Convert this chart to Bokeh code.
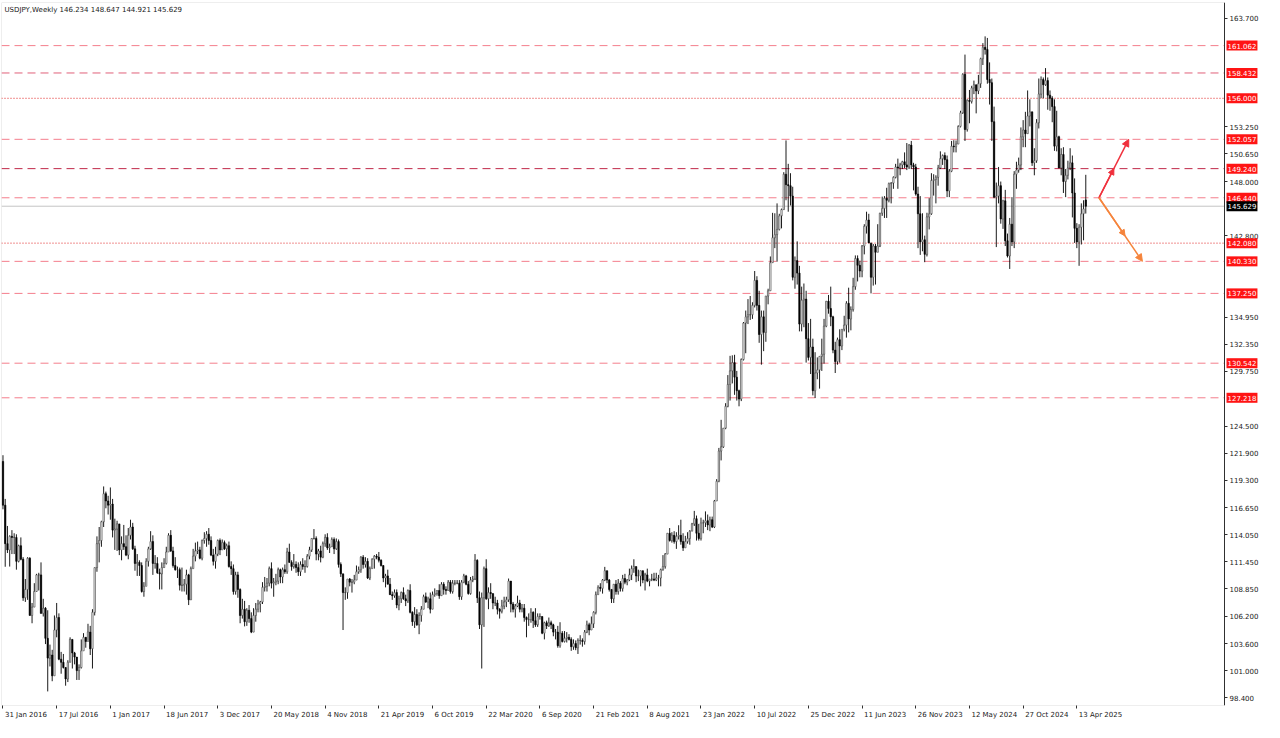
from bokeh.plotting import figure
from bokeh.models import (Range1d, FixedTicker, Label, ColumnDataSource,
                          Arrow, NormalHead, BoxAnnotation)
from bokeh.embed import file_html
from bokeh.resources import INLINE

# ---------------- data ----------------
title_text = "USDJPY,Weekly  146.234 148.647 144.921 145.629"

first_open = 121.10      # open of week 31 Jan 2016
last_open = 146.234      # open of the last (current) week

# weekly highs / lows / closes, 31 Jan 2016 .. 11 May 2025
highs = [
    # 2016
    121.7, 117.5, 114.9, 114.0, 114.5, 114.2, 114.1, 113.1, 113.8, 111.9,
    109.8, 111.9, 111.9, 107.5, 109.4, 110.3, 110.4, 111.4, 107.9, 107.1,
    106.8, 103.5, 103.0, 106.3, 107.5, 106.5, 102.8, 102.6, 101.3, 102.0,
    104.2, 104.0, 102.8, 102.3, 101.6, 104.0, 104.6, 104.2, 105.5, 105.3,
    106.9, 110.9, 113.9, 114.8, 115.4, 118.7, 118.2, 117.8,
    # 2017
    118.6, 117.5, 115.6, 115.4, 115.0, 113.9, 115.0, 114.0, 114.7, 115.5,
    115.2, 113.0, 112.2, 111.6, 111.4, 109.5, 111.8, 112.9, 114.4, 114.0,
    112.1, 111.9, 110.8, 111.4, 111.8, 112.9, 114.2, 114.5, 112.9, 111.9,
    111.0, 110.9, 110.9, 109.8, 110.7, 110.3, 111.0, 112.7, 113.3, 113.4,
    112.9, 113.6, 114.3, 114.4, 114.7, 113.9, 112.7, 112.9, 113.6, 113.7,
    113.6, 113.5,
    # 2018
    113.2, 113.4, 111.5, 111.2, 110.5, 110.5, 108.9, 107.9, 107.7, 107.0,
    107.3, 106.6, 107.0, 107.5, 107.8, 107.7, 109.5, 110.0, 109.9, 111.0,
    111.4, 109.9, 110.3, 110.9, 110.8, 110.9, 111.2, 112.8, 113.2, 111.6,
    112.2, 111.5, 111.4, 111.5, 111.8, 111.6, 112.2, 112.9, 113.7, 114.6,
    113.9, 112.7, 113.0, 113.4, 114.1, 114.2, 113.2, 113.8, 113.8, 113.7,
    113.6, 111.4,
    # 2019
    110.3, 109.0, 109.8, 109.9, 109.8, 110.2, 111.1, 111.0, 112.0, 112.1,
    111.9, 111.8, 111.0, 111.8, 112.1, 112.2, 112.4, 111.7, 111.1, 110.3,
    110.7, 109.9, 108.6, 108.8, 108.8, 108.2, 108.6, 109.0, 108.3, 108.8,
    109.3, 106.7, 107.1, 106.9, 106.6, 107.2, 108.3, 108.5, 108.1, 108.5,
    108.6, 108.9, 108.7, 109.3, 109.5, 109.5, 109.1, 109.7, 109.7, 109.7,
    109.7, 109.7,
    # 2020
    109.7, 109.7, 110.3, 110.2, 109.6, 110.0, 110.1, 112.2, 111.7, 108.6,
    108.5, 111.0, 111.7, 109.0, 109.4, 108.4, 108.1, 107.8, 107.0, 107.8,
    108.1, 108.1, 109.85, 109.6, 107.6, 107.4, 108.2, 107.8, 107.4, 107.4,
    106.2, 106.5, 107.0, 106.7, 107.0, 106.5, 106.5, 106.2, 105.7, 105.8,
    106.1, 105.8, 105.5, 105.0, 105.3, 105.65, 104.8, 104.8, 104.7, 104.5,
    104.2, 104.0, 103.9,
    # 2021
    104.1, 104.4, 104.1, 104.9, 105.8, 105.6, 106.2, 106.7, 108.6, 109.2,
    109.4, 109.8, 110.97, 110.6, 109.8, 108.8, 109.3, 109.7, 109.8, 109.6,
    110.2, 110.3, 109.8, 110.8, 111.1, 111.7, 111.0, 110.7, 110.6, 110.6,
    110.4, 110.8, 109.8, 110.3, 110.4, 110.4, 110.2, 110.8, 112.1, 112.3,
    114.2, 114.7, 114.3, 114.4, 114.3, 114.97, 115.5, 114.2, 113.95, 114.3,
    114.5, 115.2,
    # 2022
    116.35, 115.9, 115.1, 115.7, 115.5, 116.3, 116.0, 115.8, 115.8, 117.4,
    119.4, 122.4, 125.1, 124.3, 126.7, 129.4, 131.25, 131.3, 131.35, 129.8,
    128.0, 131.0, 134.5, 135.6, 136.7, 137.0, 136.4, 139.4, 138.9, 137.5,
    135.6, 135.6, 137.0, 137.7, 140.8, 144.99, 144.95, 145.9, 144.9, 145.4,
    148.9, 151.95, 149.7, 148.8, 147.5, 140.8, 142.25, 139.9, 137.9, 138.2,
    137.5, 134.4,
    # 2023
    134.8, 132.9, 131.6, 131.1, 131.2, 132.9, 134.8, 136.5, 137.1, 137.9,
    135.1, 132.6, 133.0, 133.8, 133.8, 135.1, 136.5, 137.8, 136.0, 138.75,
    140.9, 140.9, 140.4, 141.9, 143.9, 145.1, 144.9, 142.0, 142.0, 142.0,
    143.9, 145.0, 146.55, 146.6, 147.4, 147.9, 147.95, 148.5, 149.7, 150.2,
    149.8, 149.99, 150.8, 151.7, 151.6, 151.9, 149.8, 149.7, 147.5, 146.6,
    144.95, 142.8,
    # 2024
    145.0, 146.4, 148.8, 148.7, 148.6, 149.6, 150.9, 150.6, 150.8, 150.5,
    149.2, 151.9, 151.97, 151.95, 153.4, 154.8, 158.4, 160.2, 155.9, 156.8,
    157.2, 157.7, 157.3, 158.25, 159.9, 161.3, 161.95, 161.8, 159.45, 157.9,
    155.2, 147.9, 149.4, 148.0, 146.25, 147.2, 143.0, 144.5, 146.5, 149.0,
    149.9, 150.3, 153.2, 153.9, 154.7, 156.75, 155.9, 154.7, 151.2, 154.0,
    157.9, 158.1,
    # 2025
    158.0, 158.9, 158.0, 156.75, 156.2, 155.9, 154.8, 152.4, 151.2, 151.3,
    149.2, 150.0, 151.2, 150.5, 148.3, 144.0, 143.9, 145.9, 146.2, 148.647,
]

lows = [
    # 2016
    116.5, 110.98, 112.3, 111.0, 112.2, 112.2, 110.7, 111.4, 111.6, 107.7,
    107.6, 107.8, 106.3, 105.55, 107.6, 108.6, 108.7, 106.5, 106.2, 103.55,
    99.0, 101.4, 99.98, 100.6, 104.2, 102.0, 100.7, 101.2, 99.55, 99.9,
    101.8, 101.2, 101.6, 100.1, 100.1, 101.2, 103.0, 103.2, 103.9, 102.5,
    101.2, 106.3, 110.5, 111.4, 112.9, 114.8, 116.6, 116.0,
    # 2017
    115.5, 113.8, 112.6, 112.5, 112.1, 111.6, 112.6, 112.0, 111.7, 113.6,
    112.6, 110.6, 110.1, 110.1, 108.5, 108.1, 109.2, 111.0, 112.6, 110.2,
    110.8, 110.3, 108.8, 108.8, 110.9, 111.2, 112.6, 112.4, 110.9, 110.6,
    109.9, 108.7, 108.6, 108.6, 108.3, 107.3, 107.8, 110.8, 111.5, 112.2,
    111.7, 111.6, 113.2, 112.9, 113.1, 112.0, 111.1, 110.8, 112.0, 112.1,
    112.6, 112.6,
    # 2018
    112.0, 110.9, 110.2, 108.3, 108.3, 108.0, 105.55, 106.0, 105.25, 105.3,
    105.6, 104.6, 104.7, 105.7, 106.6, 106.6, 107.4, 108.6, 108.6, 109.1,
    108.9, 108.1, 109.2, 109.3, 109.4, 109.4, 110.3, 110.3, 111.4, 110.6,
    110.8, 110.4, 110.1, 110.1, 110.7, 110.4, 110.9, 111.7, 112.4, 113.6,
    111.6, 111.6, 111.4, 111.8, 112.9, 112.6, 112.3, 112.9, 112.2, 112.6,
    110.9, 110.0,
    # 2019
    104.9, 107.8, 107.9, 109.1, 108.5, 109.3, 109.7, 110.3, 110.4, 110.8,
    110.9, 109.8, 109.7, 110.8, 110.8, 111.7, 111.4, 111.0, 109.5, 109.0,
    109.3, 108.3, 107.8, 108.0, 107.0, 106.8, 107.5, 107.8, 107.2, 107.5,
    106.5, 105.3, 105.1, 105.3, 104.5, 105.7, 106.9, 107.5, 107.0, 106.5,
    106.9, 108.1, 108.2, 107.9, 108.2, 108.3, 108.3, 108.7, 108.4, 108.4,
    109.2, 109.3,
    # 2020
    107.8, 107.8, 109.4, 109.2, 108.3, 108.3, 109.5, 109.7, 107.5, 105.0,
    101.2, 105.2, 107.8, 106.9, 107.9, 106.9, 107.2, 106.4, 106.0, 106.5,
    106.9, 107.1, 107.6, 106.6, 106.6, 106.1, 107.1, 106.6, 106.6, 105.7,
    104.2, 105.3, 105.6, 105.1, 105.2, 105.2, 105.9, 104.5, 104.0, 105.0,
    105.2, 105.0, 104.3, 104.0, 103.2, 103.2, 103.7, 103.7, 103.7, 103.9,
    102.9, 103.0, 102.96,
    # 2021
    102.6, 103.5, 103.3, 103.5, 104.6, 104.4, 104.9, 105.1, 106.4, 108.3,
    108.6, 108.4, 109.6, 109.4, 108.6, 107.5, 107.5, 108.3, 108.3, 108.6,
    108.6, 109.3, 109.2, 109.6, 109.7, 110.4, 109.5, 109.6, 109.1, 109.4,
    108.7, 109.5, 109.1, 109.6, 109.6, 109.6, 109.1, 109.1, 110.6, 110.8,
    112.2, 113.4, 113.3, 113.2, 112.7, 113.6, 113.1, 112.5, 112.9, 113.2,
    113.1, 114.4,
    # 2022
    114.9, 113.5, 113.5, 113.5, 114.2, 114.8, 114.5, 114.4, 114.7, 114.7,
    117.3, 119.1, 121.2, 122.4, 124.2, 126.3, 126.95, 128.6, 127.5, 126.95,
    126.4, 126.9, 130.8, 131.5, 134.3, 134.7, 134.8, 135.9, 135.6, 132.5,
    130.4, 131.7, 132.6, 136.2, 137.5, 140.2, 141.6, 140.3, 143.3, 143.5,
    145.3, 146.2, 145.1, 145.7, 138.5, 137.7, 138.1, 133.6, 133.6, 134.0,
    130.6, 130.8,
    # 2023
    129.5, 127.45, 127.2, 129.0, 128.1, 129.8, 130.5, 134.0, 135.3, 134.1,
    131.5, 129.6, 130.4, 130.6, 131.8, 133.6, 133.0, 133.5, 133.7, 135.5,
    137.6, 138.4, 138.8, 138.8, 141.0, 143.0, 142.1, 137.25, 138.0, 138.1,
    141.5, 141.7, 144.7, 144.5, 144.5, 146.0, 145.9, 147.3, 148.3, 147.3,
    148.6, 149.2, 149.3, 149.1, 149.2, 149.2, 147.15, 146.65, 141.6, 140.95,
    141.3, 140.25,
    # 2024
    140.8, 143.4, 144.8, 146.65, 145.9, 147.6, 149.2, 149.6, 149.2, 146.5,
    146.5, 148.9, 150.8, 150.8, 151.6, 153.2, 154.5, 151.9, 152.8, 153.6,
    155.5, 156.4, 154.55, 156.4, 157.0, 159.2, 160.2, 157.4, 155.4, 151.9,
    146.4, 141.7, 145.9, 143.95, 143.45, 141.8, 140.7, 139.6, 141.8, 141.6,
    147.3, 148.85, 149.1, 151.3, 151.3, 152.6, 153.3, 149.5, 148.6, 149.8,
    153.1, 156.0,
    # 2025
    156.0, 157.2, 154.9, 154.8, 153.7, 150.95, 150.9, 149.3, 148.6, 146.9,
    146.5, 148.2, 149.1, 144.55, 142.1, 141.6, 139.9, 141.95, 142.35, 144.921,
]

closes = [
    # 2016
    116.9, 113.2, 112.6, 113.9, 113.8, 113.8, 111.5, 113.0, 111.7, 108.0,
    108.8, 111.8, 106.3, 107.1, 108.6, 110.2, 110.2, 106.5, 107.0, 104.1,
    102.2, 102.5, 100.5, 104.9, 106.1, 102.1, 101.8, 101.3, 100.2, 101.8,
    104.0, 102.7, 102.3, 101.0, 101.3, 102.9, 104.2, 103.8, 104.7, 103.1,
    106.6, 110.9, 113.2, 113.5, 115.3, 118.0, 117.3, 116.9,
    # 2017
    117.0, 114.5, 114.6, 115.1, 112.6, 113.2, 112.9, 112.1, 114.0, 114.8,
    112.7, 111.3, 111.4, 111.1, 108.6, 109.1, 111.5, 112.7, 113.4, 111.3,
    111.3, 110.4, 110.3, 110.9, 111.3, 112.4, 114.0, 112.5, 111.1, 110.7,
    110.7, 109.2, 109.2, 109.3, 110.2, 107.8, 110.8, 112.0, 112.5, 112.6,
    111.8, 113.5, 113.7, 114.1, 113.5, 112.1, 111.5, 112.2, 113.5, 112.6,
    113.3, 112.7,
    # 2018
    113.0, 111.0, 110.8, 108.6, 110.2, 108.8, 106.3, 106.9, 105.7, 106.8,
    106.0, 104.7, 106.3, 106.9, 107.4, 107.6, 109.0, 109.1, 109.4, 110.8,
    109.4, 109.5, 109.6, 110.7, 110.0, 110.7, 110.5, 112.4, 111.4, 111.0,
    111.2, 110.9, 110.5, 111.2, 111.0, 111.0, 112.0, 112.6, 113.7, 113.7,
    112.2, 112.5, 111.9, 113.2, 113.8, 112.8, 112.9, 113.6, 112.7, 113.4,
    111.2, 110.3,
    # 2019
    108.5, 108.5, 109.8, 109.5, 109.5, 109.7, 110.5, 110.7, 111.9, 111.2,
    111.5, 109.9, 110.8, 111.7, 112.0, 111.9, 111.6, 111.1, 109.9, 110.1,
    109.3, 108.3, 108.2, 108.5, 107.3, 107.9, 108.5, 107.9, 107.7, 108.7,
    106.6, 105.7, 106.4, 105.4, 106.3, 106.9, 108.1, 107.6, 107.9, 106.9,
    108.3, 108.4, 108.7, 108.2, 109.3, 108.8, 108.7, 109.5, 108.6, 109.4,
    109.4, 109.4,
    # 2020
    108.1, 109.5, 110.1, 109.3, 108.4, 109.7, 109.8, 111.6, 108.0, 105.4,
    108.0, 110.8, 107.9, 108.5, 108.4, 107.5, 107.5, 106.9, 106.7, 107.2,
    107.6, 107.8, 109.6, 107.4, 106.9, 107.2, 107.5, 106.9, 107.0, 106.1,
    105.9, 105.9, 106.6, 105.8, 105.4, 106.2, 106.2, 104.6, 105.6, 105.3,
    105.6, 105.4, 104.7, 104.7, 103.4, 104.6, 103.8, 104.1, 104.2, 104.0,
    103.3, 103.6, 103.2,
    # 2021
    103.9, 103.9, 103.8, 104.7, 105.4, 104.9, 105.5, 106.6, 108.3, 109.0,
    108.9, 109.7, 110.6, 109.7, 108.8, 107.9, 109.3, 108.6, 109.4, 108.9,
    109.85, 109.5, 109.7, 110.2, 110.8, 111.0, 110.1, 110.1, 110.6, 109.7,
    110.2, 109.6, 109.8, 109.8, 109.7, 109.9, 109.9, 110.7, 111.0, 112.2,
    114.2, 113.5, 114.0, 113.4, 113.9, 114.0, 113.4, 112.8, 113.4, 113.7,
    114.4, 115.1,
    # 2022
    115.6, 114.2, 113.7, 115.2, 115.2, 115.4, 115.0, 115.5, 114.8, 117.3,
    119.2, 122.1, 122.5, 124.3, 126.4, 128.5, 129.8, 130.6, 129.2, 127.9,
    127.1, 130.9, 134.4, 135.0, 135.2, 135.2, 136.1, 138.5, 136.1, 133.3,
    135.0, 133.5, 137.0, 137.5, 140.2, 142.6, 142.9, 143.4, 144.7, 145.3,
    148.7, 147.7, 147.6, 146.6, 138.8, 140.4, 139.2, 134.3, 136.6, 136.7,
    132.9, 131.1,
    # 2023
    132.1, 127.9, 129.6, 129.9, 131.2, 131.4, 134.1, 136.5, 135.8, 135.0,
    131.8, 130.7, 132.8, 132.2, 133.8, 134.2, 136.3, 134.8, 135.7, 137.9,
    140.6, 139.95, 139.4, 141.8, 143.7, 144.3, 142.1, 138.8, 141.8, 141.2,
    141.8, 144.95, 145.4, 146.4, 146.2, 147.8, 147.85, 148.4, 149.4, 149.3,
    149.6, 149.9, 149.6, 149.4, 151.5, 149.6, 149.4, 146.8, 144.9, 142.2,
    142.4, 141.0,
    # 2024
    144.6, 144.9, 148.1, 148.2, 148.4, 149.3, 150.2, 150.5, 150.1, 147.1,
    149.0, 151.4, 151.35, 151.6, 153.3, 154.6, 158.3, 153.0, 155.8, 155.7,
    157.0, 157.3, 156.7, 157.4, 159.8, 160.9, 160.7, 157.8, 157.5, 153.75,
    146.5, 146.6, 147.6, 144.4, 146.15, 142.3, 140.85, 143.9, 142.2, 148.7,
    149.1, 149.6, 152.3, 152.95, 152.6, 154.3, 154.7, 149.8, 150.0, 153.65,
    156.4, 157.8,
    # 2025
    157.3, 157.7, 156.3, 156.0, 155.2, 151.4, 152.3, 149.3, 150.6, 148.0,
    148.6, 149.3, 149.8, 146.9, 143.5, 142.2, 143.6, 144.9, 145.37, 145.629,
]

date_labels = ["31 Jan 2016", "17 Jul 2016", "1 Jan 2017", "18 Jun 2017", "3 Dec 2017",
               "20 May 2018", "4 Nov 2018", "21 Apr 2019", "6 Oct 2019", "22 Mar 2020",
               "6 Sep 2020", "21 Feb 2021", "8 Aug 2021", "23 Jan 2022", "10 Jul 2022",
               "25 Dec 2022", "11 Jun 2023", "26 Nov 2023", "12 May 2024", "27 Oct 2024",
               "13 Apr 2025"]
date_label_weeks = [0, 24, 48, 72, 96, 120, 144, 168, 192, 216, 240, 264, 288,
                    312, 336, 360, 384, 408, 432, 456, 480]

y_tick_values = [163.7, 153.25, 150.65, 148.0, 142.8, 134.95, 132.35, 129.75,
                 124.5, 121.9, 119.3, 116.65, 114.05, 111.45, 108.85, 106.2,
                 103.6, 101.0, 98.4]
y_tick_labels = ["163.700", "153.250", "150.650", "148.000", "142.800", "134.950",
                 "132.350", "129.750", "124.500", "121.900", "119.300", "116.650",
                 "114.050", "111.450", "108.850", "106.200", "103.600", "101.000",
                 "98.400"]

level_values = [161.062, 158.432, 156.000, 152.057, 149.240, 146.440,
                142.080, 140.330, 137.250, 130.542, 127.218]
level_kinds = ["dash", "dash2", "dot", "dash", "dash3", "dash",
               "dot", "dash", "dash", "dash", "dash"]
current_price = 145.629

# scenario arrows (week index, price)
arrow_start = (489.9, 146.440)
arrow_up_end = (503.2, 152.057)
arrow_down_end = (509.3, 140.330)

# ---------------- styles / layout ----------------
FONT = "DejaVu Sans"
FS = "7px"
FS_PX = 7.0
kind_style = {
    "dash": ("#f47e8c", "8 5"),
    "dash2": ("#e0607a", "8 5"),
    "dash3": ("#c02848", "8 5"),
    "dot": ("#e02020", "1 2"),
}

W, H = 1264, 722
BL, BT, BB = 1, 2, 17
AXIS_W = 40                      # width of the price-scale strip on the right
frame_w = W - BL                 # frame spans the strip; the axis sits inside it
frame_h = H - BT - BB
chart_w = frame_w - AXIS_W
ymin, ymax = 97.647, 165.205
xmin, xchart = -0.66, 546.0      # week range of the chart area
pxw = chart_w / (xchart - xmin)
xmax = xmin + frame_w / pxw
pxu = frame_h / (ymax - ymin)

# approx DejaVu Sans advance widths (em) to left-align date labels after their tick
CW = {" ": 0.318, "J": 0.295, "a": 0.613, "n": 0.634, "u": 0.634, "l": 0.278,
      "M": 0.863, "r": 0.411, "p": 0.635, "A": 0.684, "O": 0.787, "c": 0.550,
      "t": 0.392, "S": 0.635, "e": 0.615, "F": 0.575, "b": 0.635, "g": 0.635,
      "y": 0.592, "N": 0.748, "o": 0.612, "v": 0.592, "D": 0.770}


def text_w(s):
    return sum(0.636 if ch.isdigit() else CW.get(ch, 0.6) for ch in s) * FS_PX


# ---------------- build ----------------
n = len(closes)
opens = [first_open] + closes[:-1]
opens[-1] = last_open

bull = dict(x=[], top=[], bottom=[])
bear = dict(x=[], top=[], bottom=[])
for i in range(n):
    o, c = opens[i], closes[i]
    d = bull if c >= o else bear
    d["x"].append(i)
    d["top"].append(max(o, c))
    d["bottom"].append(min(o, c))

p = figure(width=W, height=H, output_backend="svg", toolbar_location=None,
           x_range=Range1d(xmin, xmax), y_range=Range1d(ymin, ymax),
           y_axis_location="right",
           min_border_left=BL, min_border_right=0, min_border_top=BT, min_border_bottom=BB,
           background_fill_color="white", border_fill_color="white")
p.outline_line_color = None
p.grid.visible = False

# chart-area border
p.add_layout(BoxAnnotation(left=xmin, right=xchart, bottom=ymin, top=ymax,
                           fill_alpha=0, line_color="#8c8c8c", line_width=1,
                           level="underlay"))

# level lines (stop at the price scale)
for k in kind_style:
    vals = [v for v, kk in zip(level_values, level_kinds) if kk == k]
    col, dash = kind_style[k]
    p.segment(x0=[xmin] * len(vals), y0=vals, x1=[xchart] * len(vals), y1=vals,
              line_color=col, line_dash=dash, line_width=1)
p.segment(x0=[xmin], y0=[current_price], x1=[xchart], y1=[current_price],
          line_color="#c4c4c4", line_width=1)

# candles
p.segment(x0=list(range(n)), y0=lows, x1=list(range(n)), y1=highs,
          line_color="black", line_width=0.9)
p.vbar(x="x", top="top", bottom="bottom", width=0.62, source=ColumnDataSource(bull),
       fill_color="white", line_color="#3a3a3a", line_width=0.6)
p.vbar(x="x", top="top", bottom="bottom", width=0.62, source=ColumnDataSource(bear),
       fill_color="black", line_color="black", line_width=0.6)


# arrows
def add_arrow(start, end, color, mid_frac):
    p.add_layout(Arrow(x_start=start[0], y_start=start[1], x_end=end[0], y_end=end[1],
                       line_color=color, line_width=1.5,
                       end=NormalHead(size=7, fill_color=color, line_color=color)))
    mx = start[0] + (end[0] - start[0]) * mid_frac
    my = start[1] + (end[1] - start[1]) * mid_frac
    p.add_layout(Arrow(x_start=start[0], y_start=start[1], x_end=mx, y_end=my,
                       line_color=color, line_width=1.5,
                       end=NormalHead(size=6, fill_color=color, line_color=color)))


add_arrow(arrow_start, arrow_up_end, "#f0303c", 0.5)
add_arrow(arrow_start, arrow_down_end, "#f5843c", 0.6)

# y axis: pinned to the chart's right edge (inside the wide frame)
ya = p.yaxis[0]
ya.fixed_location = xchart
ya.ticker = FixedTicker(ticks=y_tick_values, minor_ticks=[])
ya.major_label_overrides = {v: s for v, s in zip(y_tick_values, y_tick_labels)}
ya.major_label_text_font = FONT
ya.major_label_text_font_size = FS
ya.major_label_text_color = "#202020"
ya.major_tick_in = 0
ya.major_tick_out = 3
ya.minor_tick_out = 0
ya.minor_tick_in = 0
ya.major_label_standoff = 2
ya.axis_line_color = "#303030"
ya.major_tick_line_color = "#303030"

# price boxes on the scale
has_pad = "padding" in Label.properties()
for v in level_values + [current_price]:
    kw = dict(padding=(1, 2)) if has_pad else {}
    p.add_layout(Label(x=xchart, y=v, x_offset=2, text=f"{v:.3f}", text_align="left",
                       text_baseline="middle", text_font=FONT, text_font_size=FS,
                       text_color="white",
                       background_fill_color="#000000" if v == current_price else "#ff1414",
                       **kw))

# x axis: minor ticks mark the bars, labels sit just right of them (MT4 style)
label_centers = [round(w + (2 + text_w(s) / 2) / pxw, 2)
                 for w, s in zip(date_label_weeks, date_labels)]
xa = p.xaxis[0]
xa.ticker = FixedTicker(ticks=label_centers, minor_ticks=date_label_weeks)
xa.major_label_overrides = {c: s for c, s in zip(label_centers, date_labels)}
xa.major_label_text_font = FONT
xa.major_label_text_font_size = FS
xa.major_label_text_color = "#202020"
xa.major_tick_in = 0
xa.major_tick_out = 0
xa.minor_tick_in = 0
xa.minor_tick_out = 3
xa.minor_tick_line_color = "#303030"
xa.axis_line_color = None
xa.major_label_standoff = 2

# title
p.add_layout(Label(x=xmin, y=ymax - 3 / pxu, x_offset=3, text=title_text,
                   text_align="left", text_baseline="top", text_font=FONT,
                   text_font_size=FS, text_color="#202020"))

open("out.html", "w").write(file_html(p, INLINE))
